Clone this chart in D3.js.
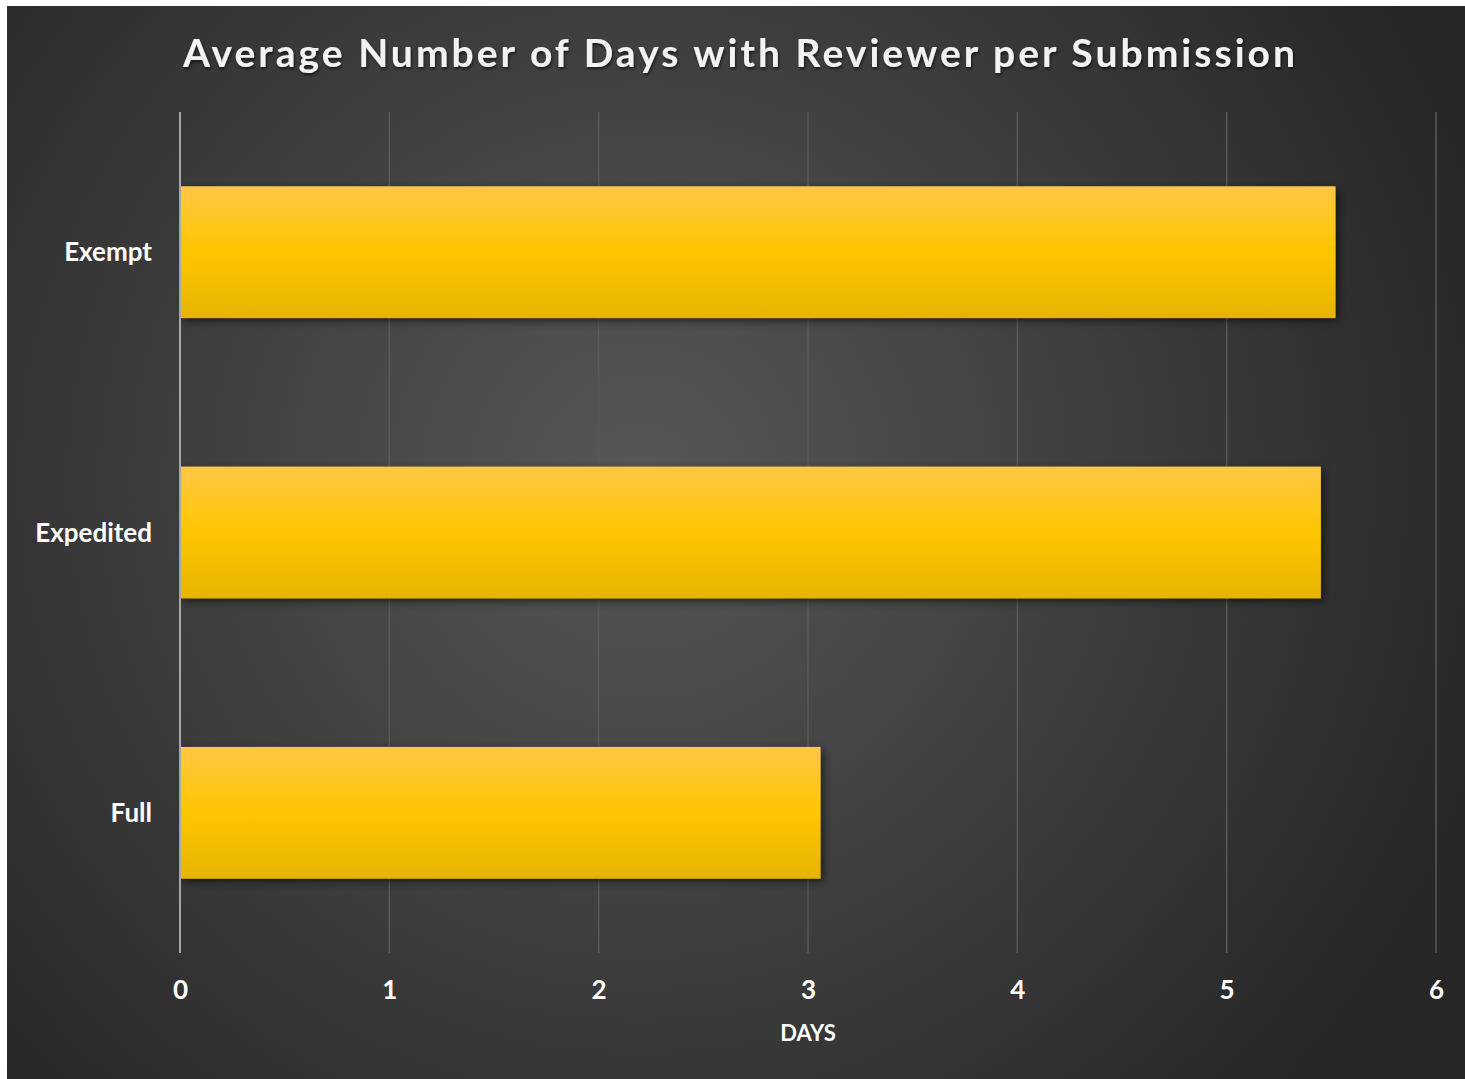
<!DOCTYPE html>
<html>
<head>
<meta charset="utf-8">
<style>
  html, body { margin: 0; padding: 0; background: #ffffff; }
  svg { display: block; }
</style>
</head>
<body>
<div id="chart"></div>
<script src="https://cdnjs.cloudflare.com/ajax/libs/d3/7.8.5/d3.min.js"></script>
<script>

var categories = ["Exempt", "Expedited", "Full"];
var days = [5.52, 5.45, 3.06];
var xTicks = [0, 1, 2, 3, 4, 5, 6];
var title = "Average Number of Days with Reviewer per Submission";
var xTitle = "DAYS";

var W = 1465, H = 1079;
var margin = {top: 112, right: 29, bottom: 126, left: 180};

var svg = d3.select("#chart")
  .append("svg")
    .attr("width", W)
    .attr("height", H);

var defs = svg.append("defs");

var bg = defs.append("radialGradient")
    .attr("id", "bg")
    .attr("gradientUnits", "userSpaceOnUse")
    .attr("cx", 640).attr("cy", 480).attr("r", 900);
bg.append("stop").attr("offset", "0%").attr("stop-color", "#575757");
bg.append("stop").attr("offset", "100%").attr("stop-color", "#262626");

var barFill = defs.append("linearGradient")
    .attr("id", "barFill")
    .attr("x1", 0).attr("y1", 0).attr("x2", 0).attr("y2", 1);
barFill.append("stop").attr("offset", "0%").attr("stop-color", "#ffc745");
barFill.append("stop").attr("offset", "50%").attr("stop-color", "#ffc600");
barFill.append("stop").attr("offset", "100%").attr("stop-color", "#e6b400");

var shadow = defs.append("filter")
    .attr("id", "shadow")
    .attr("x", "-5%").attr("y", "-10%").attr("width", "115%").attr("height", "130%");
shadow.append("feDropShadow")
    .attr("dx", 3).attr("dy", 3).attr("stdDeviation", 4)
    .attr("flood-color", "#000").attr("flood-opacity", 0.55);

var textShadow = defs.append("filter").attr("id", "tshadow");
textShadow.append("feDropShadow")
    .attr("dx", 1).attr("dy", 2).attr("stdDeviation", 1.5)
    .attr("flood-color", "#000").attr("flood-opacity", 0.6);

// background panel
svg.append("rect")
    .attr("x", 7).attr("y", 6)
    .attr("width", W - 7).attr("height", H - 6)
    .attr("fill", "url(#bg)");

var width = W - margin.left - margin.right,
    height = H - margin.top - margin.bottom;

var g = svg.append("g")
    .attr("transform", "translate(" + margin.left + "," + margin.top + ")");

var x = d3.scaleLinear()
  .domain([0, 6])
  .range([0, width]);

var y = d3.scaleBand()
  .domain(categories)
  .range([0, height])
  .paddingInner(0.53)
  .paddingOuter(0.265);

// gridlines
g.append("g")
  .selectAll("line")
  .data(xTicks.slice(1))
  .enter()
  .append("line")
    .attr("x1", d => x(d)).attr("x2", d => x(d))
    .attr("y1", 0).attr("y2", height)
    .attr("stroke", "#595959")
    .attr("stroke-width", 1.5);

// bars
g.selectAll("rect.bar")
  .data(categories)
  .enter()
  .append("rect")
    .attr("class", "bar")
    .attr("x", x(0))
    .attr("y", d => y(d))
    .attr("width", (d, i) => x(days[i]) - x(0))
    .attr("height", y.bandwidth())
    .attr("fill", "url(#barFill)")
    .attr("filter", "url(#shadow)");

// vertical axis line
g.append("line")
    .attr("x1", x(0)).attr("x2", x(0))
    .attr("y1", 0).attr("y2", height)
    .attr("stroke", "#a6a6a6")
    .attr("stroke-width", 2);

// x axis labels
var xAxis = g.append("g")
    .attr("transform", "translate(0," + height + ")")
    .call(d3.axisBottom(x).tickValues(xTicks).tickSize(0).tickPadding(28).tickFormat(d3.format("d")));
xAxis.select(".domain").remove();
xAxis.selectAll("text")
    .attr("fill", "#ffffff")
    .style("font-family", "Lato, 'Open Sans', sans-serif")
    .style("font-weight", "bold")
    .style("font-size", "26px");

// y axis labels
var yAxis = g.append("g")
    .call(d3.axisLeft(y).tickSize(0).tickPadding(28));
yAxis.select(".domain").remove();
yAxis.selectAll("text")
    .attr("fill", "#ffffff")
    .attr("dy", "0.35em")
    .style("font-family", "Lato, 'Open Sans', sans-serif")
    .style("font-weight", "bold")
    .style("font-size", "26px");

// axis title
svg.append("text")
    .attr("x", margin.left + x(3))
    .attr("y", 1041)
    .attr("text-anchor", "middle")
    .attr("fill", "#ffffff")
    .style("font-family", "Lato, 'Open Sans', sans-serif")
    .style("font-weight", "bold")
    .style("font-size", "22px")
    .text(xTitle);

// chart title
svg.append("text")
    .attr("x", 183)
    .attr("y", 67)
    .attr("textLength", 1112)
    .attr("lengthAdjust", "spacing")
    .attr("fill", "#f2f2f2")
    .attr("filter", "url(#tshadow)")
    .style("font-family", "Lato, 'Open Sans', sans-serif")
    .style("font-weight", "bold")
    .style("font-size", "39px")
    .text(title);

</script>
</body>
</html>
